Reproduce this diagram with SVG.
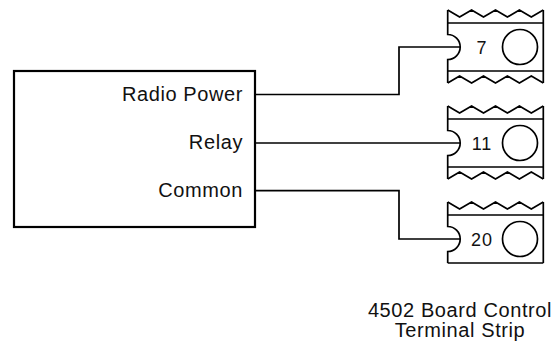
<svg xmlns="http://www.w3.org/2000/svg" width="559" height="349" viewBox="0 0 559 349">
<defs>
<style>
.box{fill:#fff;stroke:#000;stroke-width:2.2}
.ln{fill:none;stroke:#000;stroke-width:1.7}
.wire{fill:none;stroke:#000;stroke-width:1.7}
.lbl{font-family:"Liberation Sans",Arial,sans-serif;font-size:20px;letter-spacing:0.6px;fill:#111}
.num{font-family:"Liberation Sans",Arial,sans-serif;font-size:18px;letter-spacing:1px;fill:#111;text-anchor:middle}
</style>
<g id="strip-top">
<path class="ln" d="M447.7,-37 L459.6,-30 L471.6,-37 L483.5,-30 L495.5,-37 L507.4,-30 L519.4,-37 L531.3,-30 L543.3,-37"/>
<path class="ln" d="M447.7,-24 H543.3"/>
</g>
<g id="strip-bot">
<path class="ln" d="M447.7,36 L459.6,29 L471.6,36 L483.5,29 L495.5,36 L507.4,29 L519.4,36 L531.3,29 L543.3,36"/>
<path class="ln" d="M447.7,24 H543.3"/>
</g>
</defs>
<g id="controller">
<rect class="box" x="14" y="71" width="241" height="156"/>
<text class="lbl" x="243" y="101" text-anchor="end">Radio Power</text>
<text class="lbl" x="243" y="149" text-anchor="end">Relay</text>
<text class="lbl" x="243" y="197" text-anchor="end">Common</text>
</g>
<g id="connectors">
<path class="wire" d="M255,94.5 H399 V47 H460"/>
<path class="wire" d="M255,143 H460"/>
<path class="wire" d="M255,190.7 H399 V239 H460"/>
</g>
<g id="terminal-7" transform="translate(0,47)">
<use href="#strip-top"/>
<use href="#strip-bot"/>
<path class="ln" d="M447.7,-37 V-12.5 A12.5,12.5 0 0 1 447.7,12.5 V36"/>
<path class="ln" d="M543.3,-37 V36"/>
<circle class="ln" cx="520" cy="0" r="17.5"/>
<text class="num" x="482" y="6.5">7</text>
</g>
<g id="terminal-11" transform="translate(0,143)">
<use href="#strip-top"/>
<use href="#strip-bot"/>
<path class="ln" d="M447.7,-37 V-12.5 A12.5,12.5 0 0 1 447.7,12.5 V36"/>
<path class="ln" d="M543.3,-37 V36"/>
<circle class="ln" cx="520" cy="0" r="17.5"/>
<text class="num" x="482" y="6.5">11</text>
</g>
<g id="terminal-20" transform="translate(0,239)">
<use href="#strip-top"/>
<path class="ln" d="M447.7,24 H543.3"/>
<path class="ln" d="M447.7,-37 V-12.5 A12.5,12.5 0 0 1 447.7,12.5 V24"/>
<path class="ln" d="M543.3,-37 V24"/>
<circle class="ln" cx="520" cy="0" r="17.5"/>
<text class="num" x="482" y="6.5">20</text>
</g>
<g id="caption">
<text class="lbl" x="460" y="317" text-anchor="middle">4502 Board Control</text>
<text class="lbl" x="460" y="337" text-anchor="middle">Terminal Strip</text>
</g>
</svg>
